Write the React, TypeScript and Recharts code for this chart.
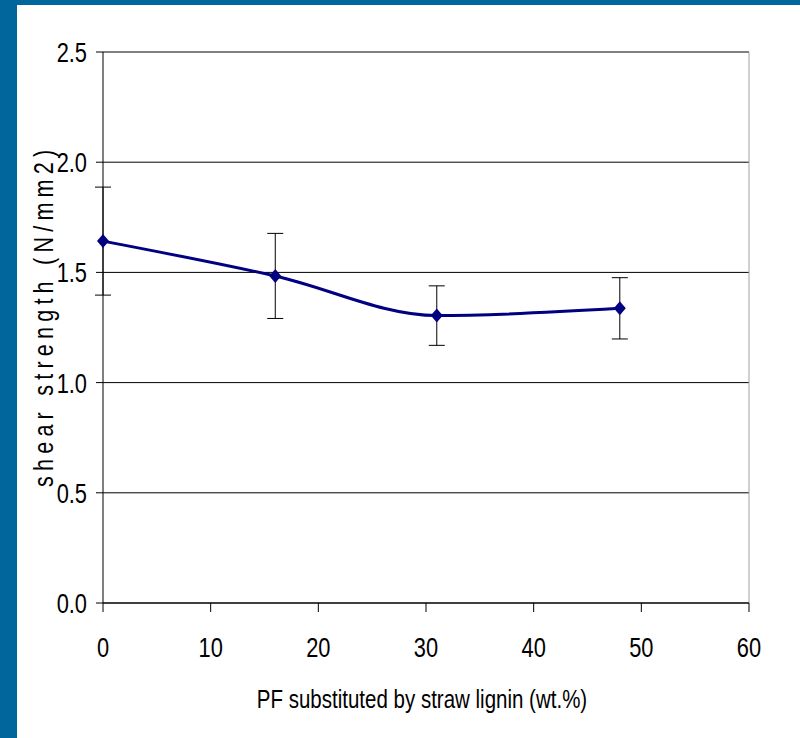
import { LineChart, Line, XAxis, YAxis, CartesianGrid, ErrorBar, ReferenceLine, Label } from 'recharts';

const substitution = [0, 16, 31, 48];
const shearStrength = [1.642, 1.484, 1.304, 1.337];
const errors = [0.245, 0.193, 0.135, 0.139];

const xTicks = [0, 10, 20, 30, 40, 50, 60];
const yTicks = [0, 0.5, 1.0, 1.5, 2.0, 2.5];

const data = substitution.map((x, i) => ({ x, y: shearStrength[i], err: errors[i] }));

const FONT = '"Liberation Sans", Arial, sans-serif';

// no narrow font installed, so squeeze the text horizontally
const Diamond = (props: any) => {
  const { cx, cy } = props;
  if (cx == null || cy == null) return null;
  return <path d={`M${cx},${cy - 7} L${cx + 6},${cy} L${cx},${cy + 7} L${cx - 6},${cy} Z`} fill="#000080" />;
};

const YTick = (props: any) => {
  const { x, y, payload } = props;
  return (
    <g transform={`translate(${x},${y})`}>
      <text transform="scale(0.78,1)" textAnchor="end" dy="0.36em" fontFamily={FONT} fontSize={28} fill="#000">
        {Number(payload.value).toFixed(1)}
      </text>
    </g>
  );
};

const XTick = (props: any) => {
  const { x, y, payload } = props;
  return (
    <g transform={`translate(${x},${y})`}>
      <text transform="scale(0.78,1)" textAnchor="middle" dy="0.72em" fontFamily={FONT} fontSize={28} fill="#000">
        {payload.value}
      </text>
    </g>
  );
};

const XTitle = () => (
  <g transform="translate(422,708)">
    <text transform="scale(0.82,1)" textAnchor="middle" fontFamily={FONT} fontSize={25} fill="#000">
      PF substituted by straw lignin (wt.%)
    </text>
  </g>
);

const YTitle = () => (
  <g transform="translate(53,487) rotate(-90)">
    <text transform="scale(0.8,1)" textAnchor="start" fontFamily={FONT} fontSize={27} letterSpacing={6.5} fill="#000">
      shear strength (N/mm2)
    </text>
  </g>
);

export default function App() {
  return (
    <div style={{ position: 'absolute', left: 0, top: 0, width: 800, height: 738, background: '#00669c' }}>
      <div style={{ position: 'absolute', left: 17, top: 5, width: 783, height: 733, background: '#fff' }} />
      <div style={{ position: 'absolute', left: 0, top: 0 }}>
        <LineChart width={800} height={738} data={data} margin={{ top: 52, right: 51, bottom: 0, left: 0 }}>
          <CartesianGrid vertical={false} stroke="#000" strokeWidth={1} />
          <XAxis
            type="number"
            dataKey="x"
            domain={[0, 60]}
            ticks={xTicks}
            height={135}
            tickSize={9}
            tickMargin={25}
            stroke="#000"
            tick={<XTick />}
          >
            <Label content={<XTitle />} />
          </XAxis>
          <YAxis
            type="number"
            domain={[0, 2.5]}
            ticks={yTicks}
            width={103}
            tickSize={7}
            tickMargin={9}
            stroke="#000"
            tick={<YTick />}
          >
            <Label content={<YTitle />} />
          </YAxis>
          <ReferenceLine y={2.5} stroke="#808080" strokeWidth={2} />
          <ReferenceLine x={60} stroke="#a0a0a0" strokeWidth={1} />
          <Line
            type="monotone"
            dataKey="y"
            stroke="#000080"
            strokeWidth={3}
            dot={<Diamond />}
            activeDot={false}
            isAnimationActive={false}
          >
            <ErrorBar dataKey="err" direction="y" width={8} stroke="#000" strokeWidth={1} />
          </Line>
        </LineChart>
      </div>
    </div>
  );
}
